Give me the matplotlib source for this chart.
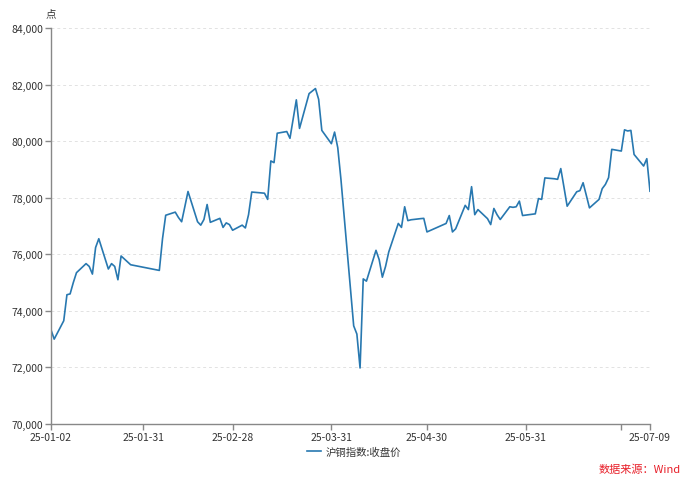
import matplotlib
matplotlib.use("Agg")
import matplotlib.pyplot as plt
import matplotlib.dates as mdates
import matplotlib.ticker as mticker
import pandas as pd

plt.rcParams['font.family'] = ['Noto Sans CJK SC', 'DejaVu Sans']

dates_jan = ["2025-01-02", "2025-01-03", "2025-01-06", "2025-01-07", "2025-01-08", "2025-01-09",
             "2025-01-10", "2025-01-13", "2025-01-14", "2025-01-15", "2025-01-16", "2025-01-17",
             "2025-01-20", "2025-01-21", "2025-01-22", "2025-01-23", "2025-01-24", "2025-01-27"]
vals_jan = [73330, 73000, 73650, 74570, 74600, 75000, 75350, 75670, 75570, 75300, 76240, 76550,
            75480, 75670, 75570, 75100, 75940, 75630]

dates_feb = ["2025-02-05", "2025-02-06", "2025-02-07", "2025-02-10", "2025-02-11", "2025-02-12",
             "2025-02-13", "2025-02-14", "2025-02-17", "2025-02-18", "2025-02-19", "2025-02-20",
             "2025-02-21", "2025-02-24", "2025-02-25", "2025-02-26", "2025-02-27", "2025-02-28"]
vals_feb = [75430, 76550, 77380, 77490, 77300, 77150, 77680, 78220, 77150, 77030, 77230, 77760,
            77130, 77270, 76950, 77110, 77050, 76850]

dates_mar = ["2025-03-03", "2025-03-04", "2025-03-05", "2025-03-06", "2025-03-07", "2025-03-10",
             "2025-03-11", "2025-03-12", "2025-03-13", "2025-03-14", "2025-03-17", "2025-03-18",
             "2025-03-19", "2025-03-20", "2025-03-21", "2025-03-24", "2025-03-25", "2025-03-26",
             "2025-03-27", "2025-03-28", "2025-03-31"]
vals_mar = [77030, 76930, 77400, 78200, 78190, 78160, 77940, 79300, 79240, 80280, 80340, 80100,
            80780, 81460, 80450, 81680, 81770, 81860, 81480, 80380, 79910]

dates_apr = ["2025-04-01", "2025-04-02", "2025-04-03", "2025-04-07", "2025-04-08", "2025-04-09",
             "2025-04-10", "2025-04-11", "2025-04-14", "2025-04-15", "2025-04-16", "2025-04-17",
             "2025-04-18", "2025-04-21", "2025-04-22", "2025-04-23", "2025-04-24", "2025-04-25",
             "2025-04-28", "2025-04-29", "2025-04-30"]
vals_apr = [80320, 79770, 78650, 73470, 73180, 71980, 75130, 75050, 76140, 75810, 75190, 75570,
            76080, 77090, 76950, 77680, 77190, 77220, 77260, 77270, 76790]

dates_may = ["2025-05-06", "2025-05-07", "2025-05-08", "2025-05-09", "2025-05-12", "2025-05-13",
             "2025-05-14", "2025-05-15", "2025-05-16", "2025-05-19", "2025-05-20", "2025-05-21",
             "2025-05-22", "2025-05-23", "2025-05-26", "2025-05-27", "2025-05-28", "2025-05-29",
             "2025-05-30"]
vals_may = [77090, 77370, 76790, 76900, 77730, 77580, 78390, 77400, 77580, 77260, 77050, 77620,
            77400, 77230, 77680, 77660, 77680, 77880, 77370]

dates_jun = ["2025-06-03", "2025-06-04", "2025-06-05", "2025-06-06", "2025-06-09", "2025-06-10",
             "2025-06-11", "2025-06-12", "2025-06-13", "2025-06-16", "2025-06-17", "2025-06-18",
             "2025-06-19", "2025-06-20", "2025-06-23", "2025-06-24", "2025-06-25", "2025-06-26",
             "2025-06-27", "2025-06-30"]
vals_jun = [77430, 77970, 77940, 78700, 78670, 78650, 79030, 78370, 77700, 78210, 78250, 78530,
            78090, 77640, 77940, 78320, 78470, 78710, 79710, 79650]

dates_jul = ["2025-07-01", "2025-07-02", "2025-07-03", "2025-07-04", "2025-07-07", "2025-07-08",
             "2025-07-09"]
vals_jul = [80400, 80360, 80380, 79530, 79120, 79380, 78230]

tick_dates = ["2025-01-02", "2025-01-31", "2025-02-28", "2025-03-31", "2025-04-30",
              "2025-05-31", "2025-06-30", "2025-07-09"]
tick_labels = ["25-01-02", "25-01-31", "25-02-28", "25-03-31", "25-04-30", "25-05-31", "", "25-07-09"]
y_ticks = [70000, 72000, 74000, 76000, 78000, 80000, 82000, 84000]

series_name = "沪铜指数:收盘价"
unit_label = "点"
source_text = "数据来源：Wind"

dates = pd.to_datetime(dates_jan + dates_feb + dates_mar + dates_apr + dates_may + dates_jun + dates_jul)
values = vals_jan + vals_feb + vals_mar + vals_apr + vals_may + vals_jun + vals_jul

fig = plt.figure(figsize=(7.0, 4.85), dpi=100)
ax = fig.add_axes([51/700, 1 - 425/485, (650 - 51)/700, (425 - 29)/485])

line_color = "#2878b0"
ax.plot(dates, values, color=line_color, lw=1.2, label=series_name)

ax.set_xlim(pd.Timestamp(tick_dates[0]), pd.Timestamp(tick_dates[-1]))
ax.set_ylim(y_ticks[0], y_ticks[-1])
ax.set_yticks(y_ticks)
ax.yaxis.set_major_formatter(mticker.FuncFormatter(lambda v, p: f"{int(v):,}"))
ax.set_xticks(pd.to_datetime(tick_dates))
ax.set_xticklabels(tick_labels)

for yv in y_ticks[1:]:
    ax.axhline(yv, color="#e2e2e2", lw=0.7, ls=(0, (3, 3)), zorder=0)

for s in ["top", "right"]:
    ax.spines[s].set_visible(False)
for s in ["left", "bottom"]:
    ax.spines[s].set_color("#888888")
    ax.spines[s].set_linewidth(1.0)

ax.tick_params(axis="both", colors="#888888", labelcolor="#333333", labelsize=7.5,
               length=4, width=1.0, pad=1.5)

fig.text(51/700, 1 - 14/485, unit_label, fontsize=7.5, color="#333333", ha="center", va="center")

leg = ax.legend(loc="center", bbox_to_anchor=(354/700, 1 - 453/485), bbox_transform=fig.transFigure,
                frameon=False, fontsize=7.5, handlelength=1.4, handletextpad=0.4,
                borderpad=0, borderaxespad=0)
for t in leg.get_texts():
    t.set_color("#333333")

fig.text(681/700, 1 - 470/485, source_text, fontsize=8, color="#e8202a", ha="right", va="center")

fig.savefig("out.png", dpi=100)
